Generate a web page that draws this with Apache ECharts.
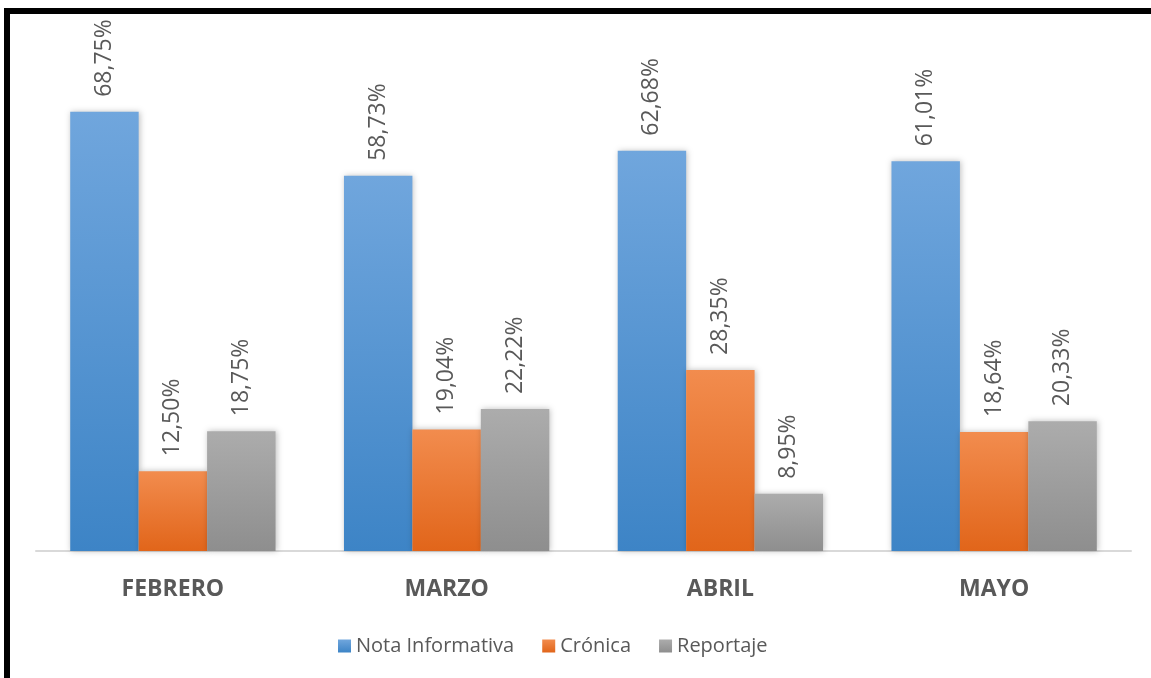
<!DOCTYPE html>
<html>
<head>
<meta charset="utf-8">
<script src="https://cdn.jsdelivr.net/npm/echarts@6/dist/echarts.min.js"></script>
<style>
    html, body { margin: 0; padding: 0; background: #fff; }
    #Chart { width: 1151px; height: 678px; }
    #frame {
        position: absolute; left: 4px; top: 8px; right: 0; bottom: 0;
        border-top: 6px solid #000; border-left: 6px solid #000;
        pointer-events: none;
    }
</style>
</head>
<body>
<div id="Chart"></div>
<div id="frame"></div>
<script>
// datos
var meses = ["FEBRERO", "MARZO", "ABRIL", "MAYO"];
var notaInformativa = [68.75, 58.73, 62.68, 61.01];
var cronica = [12.50, 19.04, 28.35, 18.64];
var reportaje = [18.75, 22.22, 8.95, 20.33];

var textColor = "#595959";

function grad(c1, c2) {
    return new echarts.graphic.LinearGradient(0, 0, 0, 1, [
        { offset: 0, color: c1 },
        { offset: 1, color: c2 }
    ]);
}

function serie(name, data, c1, c2) {
    return {
        name: name,
        type: 'bar',
        data: data,
        barGap: 0,
        barCategoryGap: '25%',
        itemStyle: {
            color: grad(c1, c2),
            shadowColor: 'rgba(0,0,0,0.25)',
            shadowBlur: 6,
            shadowOffsetX: 1
        },
        label: {
            show: true,
            position: 'top',
            rotate: 90,
            align: 'left',
            verticalAlign: 'middle',
            distance: 15,
            color: textColor,
            fontFamily: 'Open Sans',
            fontSize: 23,
            formatter: function (p) {
                return p.value.toFixed(2).replace('.', ',') + '%';
            }
        }
    };
}

var myChart = echarts.init(document.getElementById("Chart"));
var option = {
    animation: false,
    legend: {
        bottom: 17,
        left: 333,
        itemWidth: 13,
        itemHeight: 13,
        itemGap: 28,
        icon: 'rect',
        textStyle: {
            color: textColor,
            fontFamily: 'Open Sans',
            fontSize: 20
        },
        data: ["Nota Informativa", "Crónica", "Reportaje"]
    },
    grid: {
        left: 36,
        right: 20,
        top: 40,
        bottom: 127
    },
    xAxis: {
        type: 'category',
        data: meses,
        axisLine: { lineStyle: { color: '#d9d9d9', width: 2 } },
        axisTick: { show: false },
        axisLabel: {
            margin: 27,
            color: textColor,
            fontFamily: 'Open Sans',
            fontWeight: 'bold',
            fontSize: 23
        }
    },
    yAxis: {
        type: 'value',
        min: 0,
        max: 80,
        show: false,
        splitLine: { show: false }
    },
    series: [
        serie("Nota Informativa", notaInformativa, '#70a6dd', '#3d84c6'),
        serie("Crónica", cronica, '#f28c4e', '#e1651a'),
        serie("Reportaje", reportaje, '#acacac', '#8e8e8e')
    ]
};
myChart.setOption(option);
</script>
</body>
</html>
